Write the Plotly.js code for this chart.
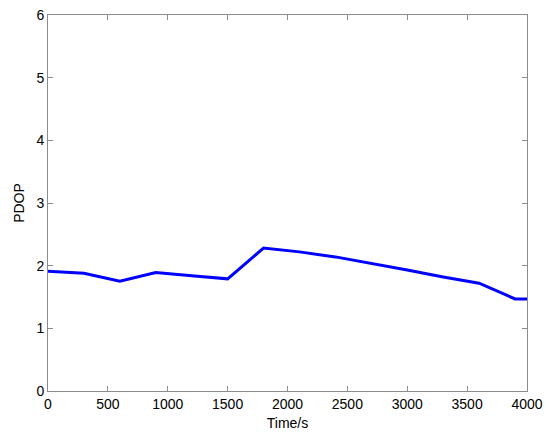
<!DOCTYPE html>
<html>
<head>
<meta charset="utf-8">
<script src="https://cdn.plot.ly/plotly-3.0.1.min.js"></script>
<style>html,body{margin:0;padding:0;background:#fff;}#chart{width:550px;height:435px;}</style>
</head>
<body>
<div id="chart"></div>
<script>
const timeS = [0, 300, 600, 900, 1200, 1500, 1800, 2100, 2400, 2700, 3000, 3300, 3600, 3900, 4000];
const pdop  = [1.91, 1.88, 1.75, 1.89, 1.84, 1.79, 2.28, 2.22, 2.14, 2.04, 1.93, 1.82, 1.72, 1.47, 1.47];
const xTicks = [0, 500, 1000, 1500, 2000, 2500, 3000, 3500, 4000];
const yTicks = [0, 1, 2, 3, 4, 5, 6];

const axisCommon = {
  showgrid: false, zeroline: false, showline: true, mirror: 'allticks',
  linecolor: '#8c8c8c', linewidth: 1, ticks: 'inside', ticklen: 5,
  tickcolor: '#8c8c8c', tickwidth: 1,
  tickfont: {family: 'Liberation Sans, Arial, sans-serif', size: 14, color: '#000'}
};

Plotly.newPlot('chart', [{
  x: timeS, y: pdop, type: 'scatter', mode: 'lines',
  line: {color: '#0000ff', width: 3}
}], {
  width: 550, height: 435,
  margin: {l: 48, r: 23, t: 15, b: 44},
  paper_bgcolor: '#fff', plot_bgcolor: '#fff',
  showlegend: false,
  xaxis: Object.assign({}, axisCommon, {
    range: [0, 4000], tickvals: xTicks, ticktext: xTicks.map(String),
    title: {text: 'Time/s', font: {family: 'Liberation Sans, Arial, sans-serif', size: 14, color: '#000'}, standoff: 7}
  }),
  yaxis: Object.assign({}, axisCommon, {
    range: [0, 6], tickvals: yTicks, ticktext: yTicks.map(String),
    title: {text: 'PDOP', font: {family: 'Liberation Sans, Arial, sans-serif', size: 14, color: '#000'}, standoff: 8}
  })
}, {staticPlot: true});
</script>
</body>
</html>
